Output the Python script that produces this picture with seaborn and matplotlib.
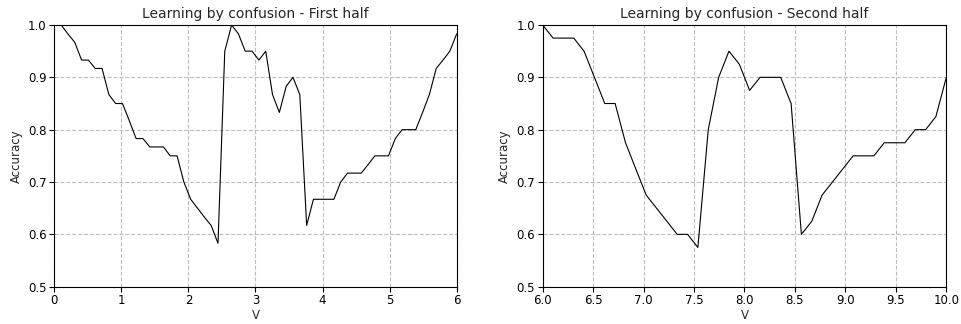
import matplotlib
matplotlib.use("Agg")
import matplotlib.pyplot as plt
import seaborn as sns
import pandas as pd
import numpy as np

# ---- data ----
v_first = [0.000, 0.102, 0.203, 0.305, 0.407, 0.508, 0.610, 0.712, 0.814, 0.915,
           1.017, 1.119, 1.220, 1.322, 1.424, 1.525, 1.627, 1.729, 1.831, 1.932,
           2.034, 2.136, 2.237, 2.339, 2.441, 2.542, 2.644, 2.746, 2.847, 2.949,
           3.051, 3.153, 3.254, 3.356, 3.458, 3.559, 3.661, 3.763, 3.864, 3.966,
           4.068, 4.169, 4.271, 4.373, 4.475, 4.576, 4.678, 4.780, 4.881, 4.983,
           5.085, 5.186, 5.288, 5.390, 5.492, 5.593, 5.695, 5.797, 5.898, 6.000]
acc_first = [1.000, 1.000, 0.983, 0.967, 0.933, 0.933, 0.917, 0.917, 0.867, 0.850,
             0.850, 0.817, 0.783, 0.783, 0.767, 0.767, 0.767, 0.750, 0.750, 0.700,
             0.667, 0.650, 0.633, 0.617, 0.583, 0.950, 1.000, 0.983, 0.950, 0.950,
             0.933, 0.950, 0.867, 0.833, 0.883, 0.900, 0.867, 0.617, 0.667, 0.667,
             0.667, 0.667, 0.700, 0.717, 0.717, 0.717, 0.733, 0.750, 0.750, 0.750,
             0.783, 0.800, 0.800, 0.800, 0.833, 0.867, 0.917, 0.933, 0.950, 0.983]

v_second = [6.000, 6.103, 6.205, 6.308, 6.410, 6.513, 6.615, 6.718, 6.821, 6.923,
            7.026, 7.128, 7.231, 7.333, 7.436, 7.538, 7.641, 7.744, 7.846, 7.949,
            8.051, 8.154, 8.256, 8.359, 8.462, 8.564, 8.667, 8.769, 8.872, 8.974,
            9.077, 9.179, 9.282, 9.385, 9.487, 9.590, 9.692, 9.795, 9.897, 10.000]
acc_second = [1.000, 0.975, 0.975, 0.975, 0.950, 0.900, 0.850, 0.850, 0.775, 0.725,
              0.675, 0.650, 0.625, 0.600, 0.600, 0.575, 0.800, 0.900, 0.950, 0.925,
              0.875, 0.900, 0.900, 0.900, 0.850, 0.600, 0.625, 0.675, 0.700, 0.725,
              0.750, 0.750, 0.750, 0.775, 0.775, 0.775, 0.800, 0.800, 0.825, 0.900]

titles = ["Learning by confusion - First half", "Learning by confusion - Second half"]
x_limits = [(0, 6), (6, 10)]
x_ticks = [[0, 1, 2, 3, 4, 5, 6], [6.0, 6.5, 7.0, 7.5, 8.0, 8.5, 9.0, 9.5, 10.0]]
x_ticklabels = [["0", "1", "2", "3", "4", "5", "6"],
                ["6.0", "6.5", "7.0", "7.5", "8.0", "8.5", "9.0", "9.5", "10.0"]]
y_ticks = [0.5, 0.6, 0.7, 0.8, 0.9, 1.0]
y_ticklabels = ["0.5", "0.6", "0.7", "0.8", "0.9", "1.0"]

df1 = pd.DataFrame({"V": v_first, "Accuracy": acc_first})
df2 = pd.DataFrame({"V": v_second, "Accuracy": acc_second})

sns.set_style("white")
plt.rcParams['font.family'] = ['DejaVu Sans']

fig = plt.figure(figsize=(9.61, 3.24), dpi=100)
ax1 = fig.add_axes([0.0565, 0.1152, 0.4187, 0.8076])
ax2 = fig.add_axes([0.5647, 0.1152, 0.4200, 0.8076])

for ax, df, title, xl, xt, xtl in zip([ax1, ax2], [df1, df2], titles, x_limits, x_ticks, x_ticklabels):
    sns.lineplot(data=df, x="V", y="Accuracy", ax=ax, color="black", linewidth=0.8)
    ax.set_xlim(*xl)
    ax.set_ylim(0.5, 1.0)
    ax.set_xticks(xt)
    ax.set_xticklabels(xtl)
    ax.set_yticks(y_ticks)
    ax.set_yticklabels(y_ticklabels)
    ax.grid(True, linestyle="--", color="#bdbdbd", linewidth=0.8)
    ax.set_axisbelow(True)
    for s in ax.spines.values():
        s.set_visible(True)
        s.set_color("black")
        s.set_linewidth(0.8)
    ax.tick_params(axis="both", which="major", direction="out", length=3.5, width=0.8,
                   labelsize=8.5, colors="black", bottom=True, left=True, pad=2)
    ax.set_title(title, fontsize=10, pad=5)
    ax.set_xlabel("V", fontsize=8.5, labelpad=1)
    ax.set_ylabel("Accuracy", fontsize=8.5, labelpad=4)

fig.savefig("out.png", dpi=100)
